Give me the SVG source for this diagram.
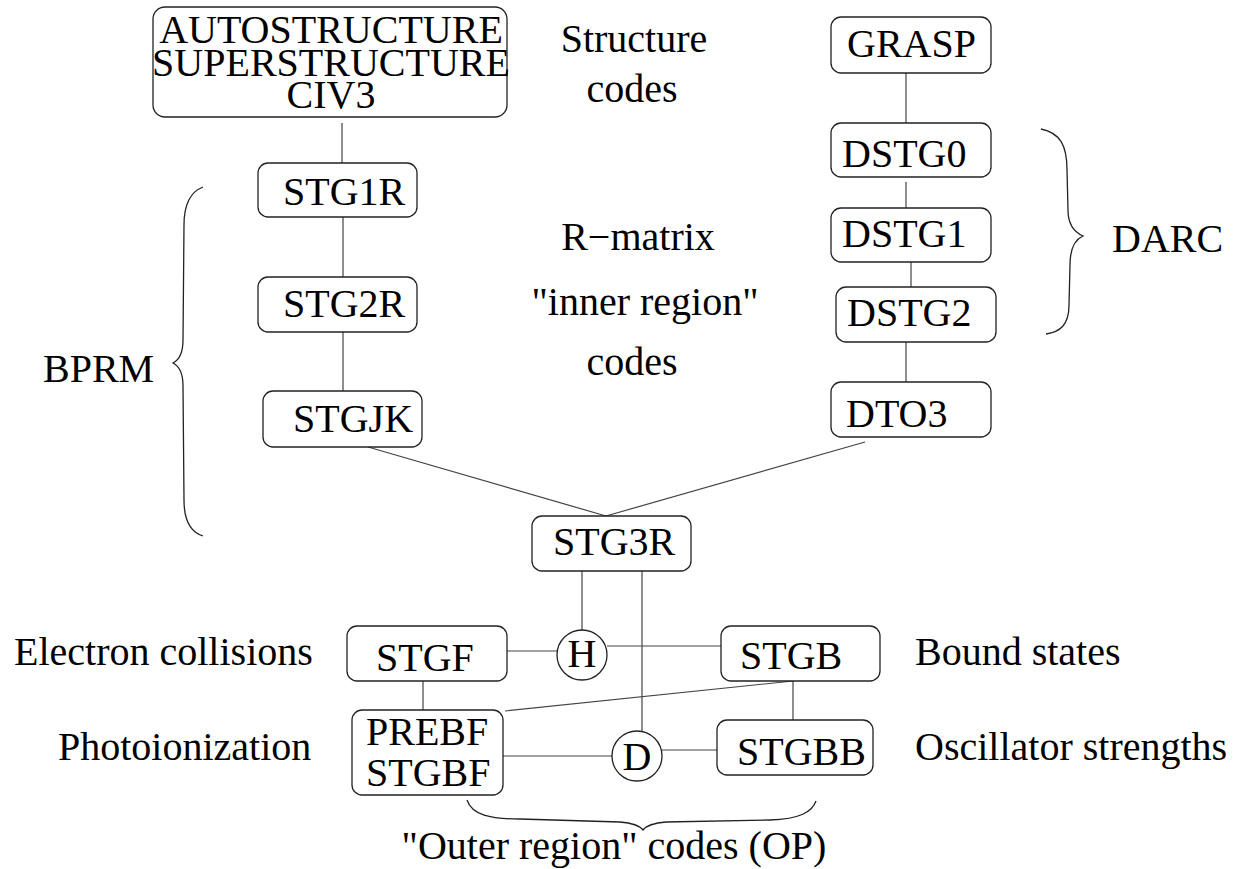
<svg xmlns="http://www.w3.org/2000/svg" width="1233" height="869" viewBox="0 0 1233 869">
  <rect width="1233" height="869" fill="#fff"/>

  <!-- connectors: thin grey lines between the codes -->
  <g id="connectors" fill="none" stroke="#444" stroke-width="1.2">
    <line x1="342" y1="123" x2="342" y2="163"/>
    <line x1="343" y1="217" x2="343" y2="277"/>
    <line x1="343" y1="332" x2="343" y2="391"/>
    <line x1="906" y1="73" x2="906" y2="123"/>
    <line x1="906" y1="182" x2="906" y2="208"/>
    <line x1="911" y1="262" x2="911" y2="287"/>
    <line x1="906" y1="342" x2="906" y2="382"/>
    <line x1="368" y1="447" x2="606" y2="516"/>
    <line x1="865" y1="442" x2="606" y2="516"/>
    <line x1="582" y1="571" x2="582" y2="630"/>
    <line x1="642" y1="571" x2="642" y2="731"/>
    <line x1="502" y1="651" x2="557" y2="651"/>
    <line x1="607" y1="646" x2="721" y2="646"/>
    <line x1="423" y1="681" x2="423" y2="710"/>
    <line x1="793" y1="681" x2="505" y2="711"/>
    <line x1="793" y1="681" x2="793" y2="720"/>
    <line x1="503" y1="756" x2="612" y2="756"/>
    <line x1="662" y1="750" x2="717" y2="750"/>
  </g>

  <!-- nodes: rounded boxes and circles share one look -->
  <g id="nodes" fill="#fff" stroke="#222" stroke-width="1.3">
    <rect id="structure-codes-box" x="153" y="7" width="354" height="110" rx="12"/>
    <rect id="stg1r" x="258" y="163" width="159" height="54" rx="10"/>
    <rect id="stg2r" x="258" y="277" width="159" height="55" rx="10"/>
    <rect id="stgjk" x="263" y="391" width="159" height="56" rx="10"/>
    <rect id="grasp" x="831" y="17" width="160" height="56" rx="10"/>
    <rect id="dstg0" x="831" y="123" width="160" height="54" rx="10"/>
    <rect id="dstg1" x="831" y="208" width="160" height="54" rx="10"/>
    <rect id="dstg2" x="836" y="287" width="160" height="55" rx="10"/>
    <rect id="dto3" x="831" y="382" width="160" height="55" rx="10"/>
    <rect id="stg3r" x="532" y="516" width="159" height="55" rx="10"/>
    <rect id="stgf" x="347" y="626" width="160" height="55" rx="10"/>
    <circle id="node-h" cx="582" cy="655" r="25"/>
    <rect id="stgb" x="721" y="626" width="159" height="55" rx="10"/>
    <rect id="prebf" x="352" y="710" width="151" height="85" rx="10"/>
    <circle id="node-d" cx="637" cy="756" r="25"/>
    <rect id="stgbb" x="717" y="720" width="156" height="55" rx="10"/>
  </g>

  <!-- node names -->
  <g id="node-labels" font-family="Liberation Serif" font-size="40" fill="#000">
    <g text-anchor="middle">
      <text x="331" y="43">AUTOSTRUCTURE</text>
      <text x="331" y="76">SUPERSTRUCTURE</text>
      <text x="331" y="108">CIV3</text>
      <text x="582" y="667">H</text>
      <text x="637" y="770">D</text>
    </g>
    <text x="283" y="205">STG1R</text>
    <text x="283" y="317">STG2R</text>
    <text x="293" y="432">STGJK</text>
    <text x="847" y="57">GRASP</text>
    <text x="842" y="167">DSTG0</text>
    <text x="842" y="247">DSTG1</text>
    <text x="847" y="326">DSTG2</text>
    <text x="846" y="427">DTO3</text>
    <text x="553" y="555">STG3R</text>
    <text x="376" y="671">STGF</text>
    <text x="740" y="669">STGB</text>
    <text x="366" y="745">PREBF</text>
    <text x="366" y="786">STGBF</text>
    <text x="737" y="765">STGBB</text>
  </g>

  <!-- group labels -->
  <g id="labels" font-family="Liberation Serif" font-size="40" fill="#000">
    <g text-anchor="middle">
      <text x="634" y="52">Structure</text>
      <text x="632" y="102">codes</text>
      <text x="638" y="250">R−matrix</text>
      <text x="645" y="315">"inner region"</text>
      <text x="632" y="375">codes</text>
      <text x="614" y="859">"Outer region" codes (OP)</text>
    </g>
    <text x="43" y="382">BPRM</text>
    <text x="1112" y="252">DARC</text>
    <text x="14" y="665">Electron collisions</text>
    <text x="58" y="760">Photoionization</text>
    <text x="915" y="665">Bound states</text>
    <text x="915" y="760">Oscillator strengths</text>
  </g>

  <!-- curly braces grouping the code families -->
  <g id="braces" fill="none" stroke="#222" stroke-width="1.3">
    <path d="M203,187 C190,192 184,205 184,225 L183,340 C183,352 179,360 173,363 C179,366 183,374 183,386 L184,500 C184,520 190,532 203,536"/>
    <path d="M1041,129 C1060,133 1067,145 1067,170 L1068,210 C1068,225 1074,232 1083,236 C1074,240 1070,250 1070,265 L1069,305 C1069,325 1060,332 1046,334"/>
    <path d="M467,800 C472,815 490,819 520,819 L620,822 C632,823 640,826 643,830 C646,826 654,823 666,822 L770,820 C800,819 812,812 816,801"/>
  </g>
</svg>
